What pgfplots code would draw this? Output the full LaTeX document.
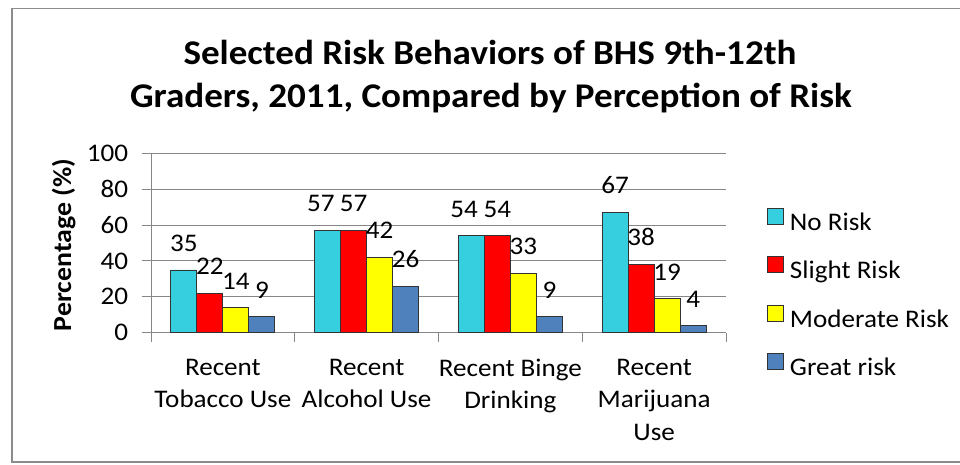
\documentclass[border=0pt]{standalone}
\usepackage{fontspec}
\setmainfont{Carlito}[FakeStretch=1.07]
\usepackage{pgfplots}
\pgfplotsset{compat=1.18}

\definecolor{norisk}{HTML}{36CFE0}
\definecolor{slight}{HTML}{FF0000}
\definecolor{moderate}{HTML}{FFFF00}
\definecolor{great}{HTML}{4F81BD}
\definecolor{gridgray}{HTML}{868686}

\newcommand{\ft}{\fontsize{19}{24.4}\selectfont}

\begin{document}
\begin{tikzpicture}[x=0.75pt,y=0.75pt]
\useasboundingbox (0,0) rectangle (960,464);
\draw[gray!90, line width=1.1pt] (961,455.5) -- (12,455.5) -- (12,2) -- (961,2);

% title and y label
\node[anchor=base, font=\fontsize{26}{30}\selectfont\bfseries] at (490,399) {Selected Risk Behaviors of BHS 9th-12th};
\node[anchor=base, font=\fontsize{26}{30}\selectfont\bfseries] at (491,356) {Graders, 2011, Compared by Perception of Risk};
\node[rotate=90, anchor=base, font=\fontsize{19.5}{24}\selectfont\bfseries] at (71,219) {Percentage (\%)};

\begin{axis}[
    at={(113.25pt,98.475pt)}, anchor=south west,
    scale only axis,
    width=431.25pt, height=134.55pt,
    xmin=-0.5, xmax=3.5, ymin=0, ymax=100,
    ybar=0pt, bar width=19.5pt,
    axis x line*=bottom, axis y line*=left,
    axis line style={-, draw=gridgray, line width=0.75pt},
    xtick={-0.5,0.5,1.5,2.5,3.5}, xticklabels={},
    tick align=outside,
    major tick length=7pt,
    tick style={draw=gridgray, line width=0.75pt},
    extra x ticks={0,1,2,3},
    extra x tick labels={{Recent\\Tobacco Use},{Recent\\Alcohol Use},{Recent Binge\\Drinking},{Recent\\Marijuana\\Use}},
    extra x tick style={major tick length=0pt, grid=none},
    xticklabel style={font=\ft, align=center, anchor=north, inner sep=0pt, yshift=-19.5pt},
    ytick={0,20,...,100},
    yticklabel style={font=\ft, anchor=east, inner sep=0pt, xshift=-10pt},
    ymajorgrids,
    grid style={draw=gridgray, line width=0.75pt},
    /pgf/number format/assume math mode=true,
    nodes near coords,
    every node near coord/.append style={font=\ft, anchor=south, inner sep=0pt, yshift=13.5pt, text=black},
    legend style={at={(1.0708,0.695)}, anchor=north west, draw=none, fill=none,
        inner sep=0pt, font=\ft, row sep=15.25pt, column sep=4.5pt,
        nodes={inner sep=0pt, text height=13pt, text depth=4pt}},
    legend cell align=left,
    sq legend/.style={legend image code/.code={\draw[##1, line width=0.75pt] (0pt,0pt) rectangle (12pt,12pt);}},
]
% dx: small sideways nudge of the value label (pt), as in the original
\addplot[fill=norisk, draw=black!80, line width=0.6pt, sq legend,
    visualization depends on={\thisrow{dx} \as \dx},
    every node near coord/.append style={xshift=\dx pt}] table {
x y dx
0 35 0
1 57 -5
2 54 -5.5
3 67 0
};
\addplot[fill=slight, draw=black!80, line width=0.6pt, sq legend] coordinates {(0,22) (1,57) (2,54) (3,38)};
\addplot[fill=moderate, draw=black!80, line width=0.6pt, sq legend] coordinates {(0,14) (1,42) (2,33) (3,19)};
\addplot[fill=great, draw=black!80, line width=0.6pt, sq legend] coordinates {(0,9) (1,26) (2,9) (3,4)};
\legend{No Risk, Slight Risk, Moderate Risk, Great risk}
\end{axis}
\end{tikzpicture}
\end{document}
